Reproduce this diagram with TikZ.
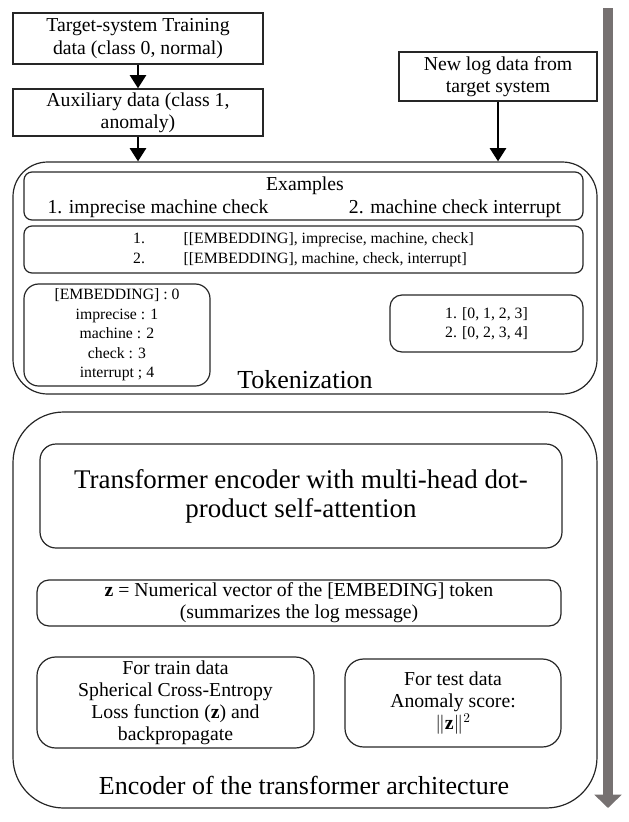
\documentclass[tikz,border=0pt]{standalone}
\usepackage{fontspec}
\setmainfont{Liberation Serif}
\usepackage{amsmath}
\usepackage{xcolor}
\usepackage{tikz}
\usetikzlibrary{shapes.geometric, arrows, arrows.meta, fit}
\definecolor{flowgray}{RGB}{118,113,113}
\newcommand{\fsnormal}{\fontsize{14.8}{16.6}\selectfont}
\newcommand{\fssmall}{\fontsize{11.8}{14.6}\selectfont}
\newcommand{\fslarge}{\fontsize{19.5}{21.8}\selectfont}
\newcommand{\fstitle}{\fontsize{20.2}{21.8}\selectfont}
\tikzstyle{arrow} = [line width=2.2pt,-{Triangle[width=12pt,length=10pt]}]
\tikzstyle{flow} = [line width=7.5pt,draw=flowgray,-{Triangle[width=20pt,length=10pt]}]
\tikzstyle{databox} = [draw=black!85,line width=1pt,inner sep=0pt]
\tikzstyle{stagebox} = [draw=black!85,line width=0.9pt,inner sep=0pt,rounded corners=26pt]
\tikzstyle{itembox} = [draw=black!85,line width=0.9pt,inner sep=0pt,rounded corners=6pt]
\tikzstyle{boxtext} = [inner sep=0pt,align=center,font=\fsnormal]

\begin{document}
\begin{tikzpicture}[x=0.75pt,y=-0.75pt]
	% Frame:
	% the reference is 629 x 822, so one unit is one of its pixels (y grows downwards)
	\useasboundingbox (0,0) rectangle (629,822);
	
	% Input data:
	\node [databox,fit={(13,13) (263,64)}] (train) {};
	\node [boxtext] (traintext) at (train) {Target-system Training\\data (class 0, normal)};
	\node [databox,fit={(13,89) (263,136)}] (aux) {};
	\node [boxtext] (auxtext) at (aux) {Auxiliary data (class 1,\\anomaly)};
	\node [databox,fit={(399,52) (597,101)}] (newlog) {};
	\node [boxtext] (newlogtext) at (newlog) {New log data from\\target system};
	
	% Tokenization stage:
	\node [stagebox,fit={(13,162) (597,394)}] (tok) {};
	\node [itembox,fit={(24,172) (583,220)}] (examples) {};
	\node [boxtext] (extitle) at (305,186) {Examples};
	\node [boxtext] (exone) at (158,209) {1. imprecise machine check};
	\node [boxtext] (extwo) at (455,209) {2. machine check interrupt};
	\node [itembox,fit={(24,226) (583,273)}] (seqs) {};
	\node [boxtext,font=\fssmall] (seqstext) at (seqs) {%
		\begin{tabular}{@{}l@{\hspace{29pt}}l@{}}
			1. & [[EMBEDDING], imprecise, machine, check]\\
			2. & [[EMBEDDING], machine, check, interrupt]
		\end{tabular}};
	\node [itembox,rounded corners=11pt,fit={(24,284) (210,386)}] (vocab) {};
	\node [boxtext,font=\fssmall] (vocabtext) at (vocab) {[EMBEDDING] : 0\\imprecise : 1\\machine : 2\\check : 3\\interrupt ; 4};
	\node [itembox,rounded corners=9pt,fit={(390,295) (583,352)}] (ids) {};
	\node [boxtext,font=\fssmall] (idstext) at (ids) {1. [0, 1, 2, 3]\\2. [0, 2, 3, 4]};
	\node [boxtext,font=\fslarge] (toklabel) at (305,380) {Tokenization};
	
	% Encoder stage:
	\node [stagebox,rounded corners=38pt,fit={(13,412) (597,808)}] (enc) {};
	\node [itembox,rounded corners=12pt,fit={(40,444) (562,548)}] (attn) {};
	\node [boxtext,font=\fstitle] (attntext) at (attn) {Transformer encoder with multi-head dot-\\product self-attention};
	\node [itembox,rounded corners=9pt,fit={(37,580) (561,626)}] (zvec) {};
	\node [boxtext] (zvectext) at (zvec) {\textbf{z} = Numerical vector of the [EMBEDING] token\\(summarizes the log message)};
	\node [itembox,rounded corners=14pt,fit={(37,657) (314,748)}] (trainloss) {};
	\node [boxtext] (trainlosstext) at (trainloss) {For train data\\Spherical Cross-Entropy\\Loss function (\textbf{z}) and\\backpropagate};
	\node [itembox,rounded corners=14pt,fit={(345,659) (561,747)}] (testscore) {};
	\node [boxtext] (testscoretext) at (testscore) {For test data\\Anomaly score:\\$\|\mathbf{z}\|^{2}$};
	\node [boxtext,font=\fslarge] (enclabel) at (304,785) {Encoder of the transformer architecture};
	
	% Arrows:
	\draw [arrow] (train) -- (aux);
	\draw [arrow] (aux.south) -- (aux.south |- tok.north);
	\draw [arrow] (newlog.south) -- (newlog.south |- tok.north);
	
	% Side bar:
	\coordinate (flowtop) at (608,8);
	\coordinate (flowend) at (608,808);
	\draw [flow] (flowtop) -- (flowend);
\end{tikzpicture}
\end{document}
